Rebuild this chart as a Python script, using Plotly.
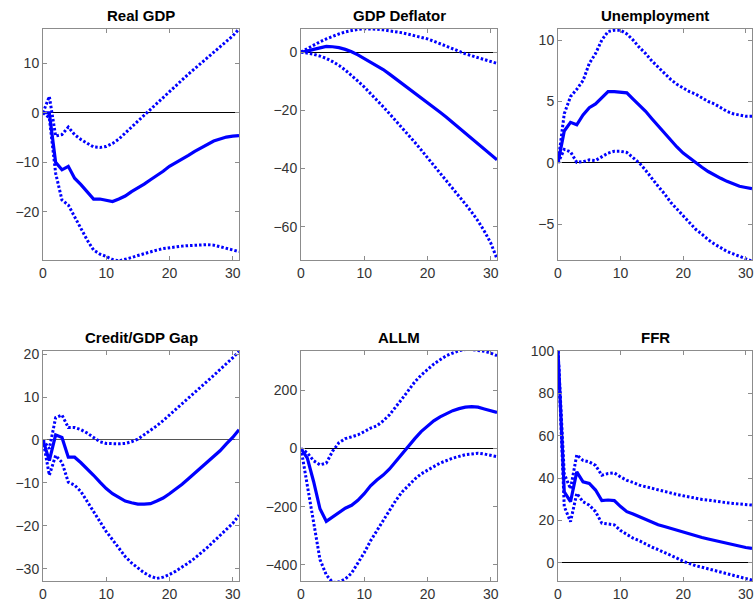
import plotly.graph_objects as go

horizon = list(range(32))

titles = ["Real GDP", "GDP Deflator", "Unemployment", "Credit/GDP Gap", "ALLM", "FFR"]

gdp_mid = [0, 0, -10, -11.5, -10.8, -13.2, -14.5, -15.9, -17.4, -17.4, -17.6, -17.9, -17.4, -16.8, -15.9, -15.2,
           -14.4, -13.5, -12.7, -11.8, -10.8, -10.1, -9.3, -8.6, -7.8, -7.1, -6.3, -5.7, -5.3, -4.9, -4.7, -4.6]
gdp_up = [0, 3.3, -4.7, -4.4, -2.9, -4.4, -5.4, -6.2, -6.9, -7.0, -6.8, -6.2, -5.3, -4.1, -2.8, -1.7,
          -0.5, 0.7, 1.9, 3.2, 4.4, 5.5, 6.6, 7.8, 8.9, 10.0, 11.1, 12.2, 13.2, 14.3, 15.5, 16.9]
gdp_lo = [0, -1, -12.2, -17.6, -18.6, -21, -23.3, -25.7, -27.7, -28.5, -29, -29.6, -29.9, -29.6, -29.2, -28.8,
          -28.4, -28, -27.7, -27.4, -27.2, -27.0, -26.9, -26.8, -26.7, -26.6, -26.6, -26.7, -27, -27.4, -27.7, -28]

defl_mid = [0, 0.3, 0.9, 1.5, 1.9, 1.8, 1.5, 0.9, 0.1, -1, -2.2, -3.4, -4.7, -6, -7.6, -9.2,
            -10.9, -12.5, -14.2, -15.8, -17.3, -19.0, -20.7, -22.4, -24.2, -26, -27.7, -29.5, -31.3, -33.1, -35, -37]
defl_up = [0, 1.2, 2.4, 3.5, 4.5, 5.4, 6.2, 6.9, 7.4, 7.8, 8, 8, 7.8, 7.6, 7.3, 7,
           6.6, 6.1, 5.6, 5.1, 4.5, 3.7, 2.8, 1.9, 1, 0.2, -0.6, -1.3, -2, -2.6, -3.2, -3.9]
defl_lo = [0, -0.3, -0.8, -1.4, -2.2, -3.3, -4.6, -6.2, -8, -10, -12, -14.2, -16.5, -18.8, -21.2, -23.6,
           -26, -28.5, -31, -33.6, -36.2, -38.8, -41.4, -44, -46.7, -49.4, -52.2, -55, -58, -61.5, -65.5, -71]

unemp_mid = [0, 2.6, 3.3, 3.1, 3.9, 4.5, 4.8, 5.3, 5.8, 5.8, 5.75, 5.7, 5.2, 4.7, 4.2, 3.6,
             3, 2.4, 1.8, 1.3, 0.8, 0.4, 0, -0.35, -0.7, -1, -1.25, -1.5, -1.7, -1.9, -2, -2.1]
unemp_up = [0, 4, 5.4, 6, 6.7, 8.1, 8.9, 10, 10.7, 10.8, 10.8, 10.5, 10, 9.4, 8.9, 8.3,
            7.8, 7.3, 6.8, 6.4, 6.1, 5.8, 5.6, 5.3, 5, 4.8, 4.5, 4.2, 4, 3.9, 3.8, 3.8]
unemp_lo = [0, 1.1, 0.9, 0.05, 0.1, 0.25, 0.2, 0.5, 0.8, 0.95, 0.95, 0.85, 0.45, 0, -0.6, -1.3,
            -1.9, -2.5, -3.2, -3.75, -4.3, -4.8, -5.4, -5.8, -6.25, -6.6, -6.9, -7.2, -7.4, -7.6, -7.8, -8]

gap_mid = [0, -4.8, 1.2, 0.6, -4, -4, -5.3, -6.7, -8.2, -9.8, -11.3, -12.5, -13.4, -14.2, -14.6, -14.9,
           -14.9, -14.8, -14.2, -13.5, -12.5, -11.5, -10.3, -9, -7.7, -6.3, -5.2, -3.8, -2.5, -0.9, 0.6, 2.4]
gap_up = [0, -2, 5.2, 5.8, 2.9, 2.9, 2.4, 1.6, 0.6, -0.4, -0.8, -0.9, -0.9, -0.8, -0.4, 0.2,
          1.2, 2.2, 3.3, 4.5, 5.8, 7, 8.3, 9.6, 11, 12.3, 13.7, 15, 16.4, 17.7, 19.1, 20.6]
gap_lo = [0, -8.2, -3.6, -5.2, -9.8, -10.5, -12, -14.4, -16.7, -19, -21.3, -23.2, -25.2, -27.1, -28.6, -29.8,
          -30.9, -31.7, -32.2, -31.9, -31.3, -30.5, -29.6, -28.6, -27.5, -26.3, -25, -23.6, -22.2, -20.9, -19.4, -17.5]

allm_mid = [0, -33, -114, -207, -250, -236, -219, -205, -195, -178, -155, -128, -108, -91, -70, -44,
            -15, 12, 34, 58, 78, 95, 109, 121, 130, 137, 142, 144, 142, 136, 130, 124]
allm_up = [0, -15, -42, -56, -50, -9, 20, 34, 40, 47, 58, 70, 78, 95, 116, 142,
           171, 200, 229, 252, 272, 290, 305, 319, 328, 336, 340, 340, 337, 334, 328, 319]
allm_lo = [0, -126, -265, -381, -434, -460, -458, -448, -428, -393, -358, -317, -283, -248, -213, -178,
           -149, -126, -105, -87, -73, -62, -50, -41, -33, -27, -21, -19, -16, -19, -23, -28]

ffr_mid = [100, 33.6, 28.9, 43, 38.3, 37.5, 34.4, 29.4, 29.7, 29.4, 26.6, 24.2, 23.1, 21.9, 20.3, 19.1,
           18, 17.2, 16.3, 15.3, 14.4, 13.6, 12.8, 12, 11.3, 10.6, 9.8, 9.2, 8.6, 8, 7.3, 6.9]
ffr_up = [100, 42, 35, 51, 48.4, 47.7, 46, 41.4, 42.2, 42.5, 40.6, 39, 38, 36.7, 36, 35.2,
          34.4, 33.6, 32.8, 32.3, 31.7, 31.1, 30.5, 30, 29.7, 29.2, 28.7, 28.4, 28.1, 27.8, 27.5, 27.3]
ffr_lo = [100, 26.6, 19.5, 32.8, 28.9, 27.3, 24.2, 18.8, 18.4, 18, 15.3, 13.3, 11.7, 10.5, 8.9, 7.5,
          6.3, 5, 3.9, 2.3, 0.8, -0.3, -1.3, -2, -2.8, -3.6, -4.4, -5.2, -5.9, -6.7, -7.5, -8.1]

series = [(gdp_mid, gdp_up, gdp_lo), (defl_mid, defl_up, defl_lo), (unemp_mid, unemp_up, unemp_lo),
          (gap_mid, gap_up, gap_lo), (allm_mid, allm_up, allm_lo), (ffr_mid, ffr_up, ffr_lo)]

y_ranges = [(-29.7, 16.9), (-71.4, 7.9), (-7.9, 10.9), (-32.8, 20.7), (-455, 335), (-8.5, 100)]
y_ticks = [[-20, -10, 0, 10], [-60, -40, -20, 0], [-5, 0, 5, 10], [-30, -20, -10, 0, 10, 20],
           [-400, -200, 0, 200], [0, 20, 40, 60, 80, 100]]
x_ticks = [0, 10, 20, 30]

W, H = 754, 607
col_px = [(43, 239), (301, 497), (558, 752)]
row_px = [(29, 260), (351, 581)]

fig = go.Figure()
BLUE = "rgb(0,0,255)"
FONT = "Liberation Sans, Arial, sans-serif"

for i in range(6):
    r, c = divmod(i, 3)
    n = i + 1
    xa = "x" if n == 1 else f"x{n}"
    ya = "y" if n == 1 else f"y{n}"
    mid, up, lo = series[i]
    for band in (up, lo):
        fig.add_trace(go.Scatter(x=horizon, y=band, mode="lines", xaxis=xa, yaxis=ya,
                                 line=dict(color=BLUE, width=3, dash="2.5px,2px"), showlegend=False))
    fig.add_trace(go.Scatter(x=horizon, y=mid, mode="lines", xaxis=xa, yaxis=ya,
                             line=dict(color=BLUE, width=3.2), showlegend=False))
    x0, x1 = col_px[c]
    y0, y1 = row_px[r]
    common = dict(showline=True, mirror="allticks", linecolor="#8c8c8c", linewidth=1,
                  ticks="inside", ticklen=4, tickcolor="#8c8c8c", showgrid=False, automargin=False,
                  tickfont=dict(family=FONT, size=14, color="#333333"))
    fig.layout[("xaxis" if n == 1 else f"xaxis{n}")] = dict(
        domain=[x0 / W, x1 / W], anchor=ya, range=[0, 31], tickvals=x_ticks,
        zeroline=False, **common)
    fig.layout[("yaxis" if n == 1 else f"yaxis{n}")] = dict(
        domain=[1 - y1 / H, 1 - y0 / H], anchor=xa, range=list(y_ranges[i]), tickvals=y_ticks[i],
        zeroline=True, zerolinecolor="#000000" if i != 3 else "#555555", zerolinewidth=1, **common)
    fig.add_annotation(text=f"<b>{titles[i]}</b>", x=(x0 + x1) / 2 / W, y=1 - (y0 - 3) / H,
                       xref="paper", yref="paper", xanchor="center", yanchor="bottom", showarrow=False,
                       font=dict(family=FONT, size=15, color="#000000"))

fig.update_layout(width=W, height=H, margin=dict(l=0, r=0, t=0, b=0, autoexpand=False),
                  paper_bgcolor="white", plot_bgcolor="white")
fig.write_html("out.html")
